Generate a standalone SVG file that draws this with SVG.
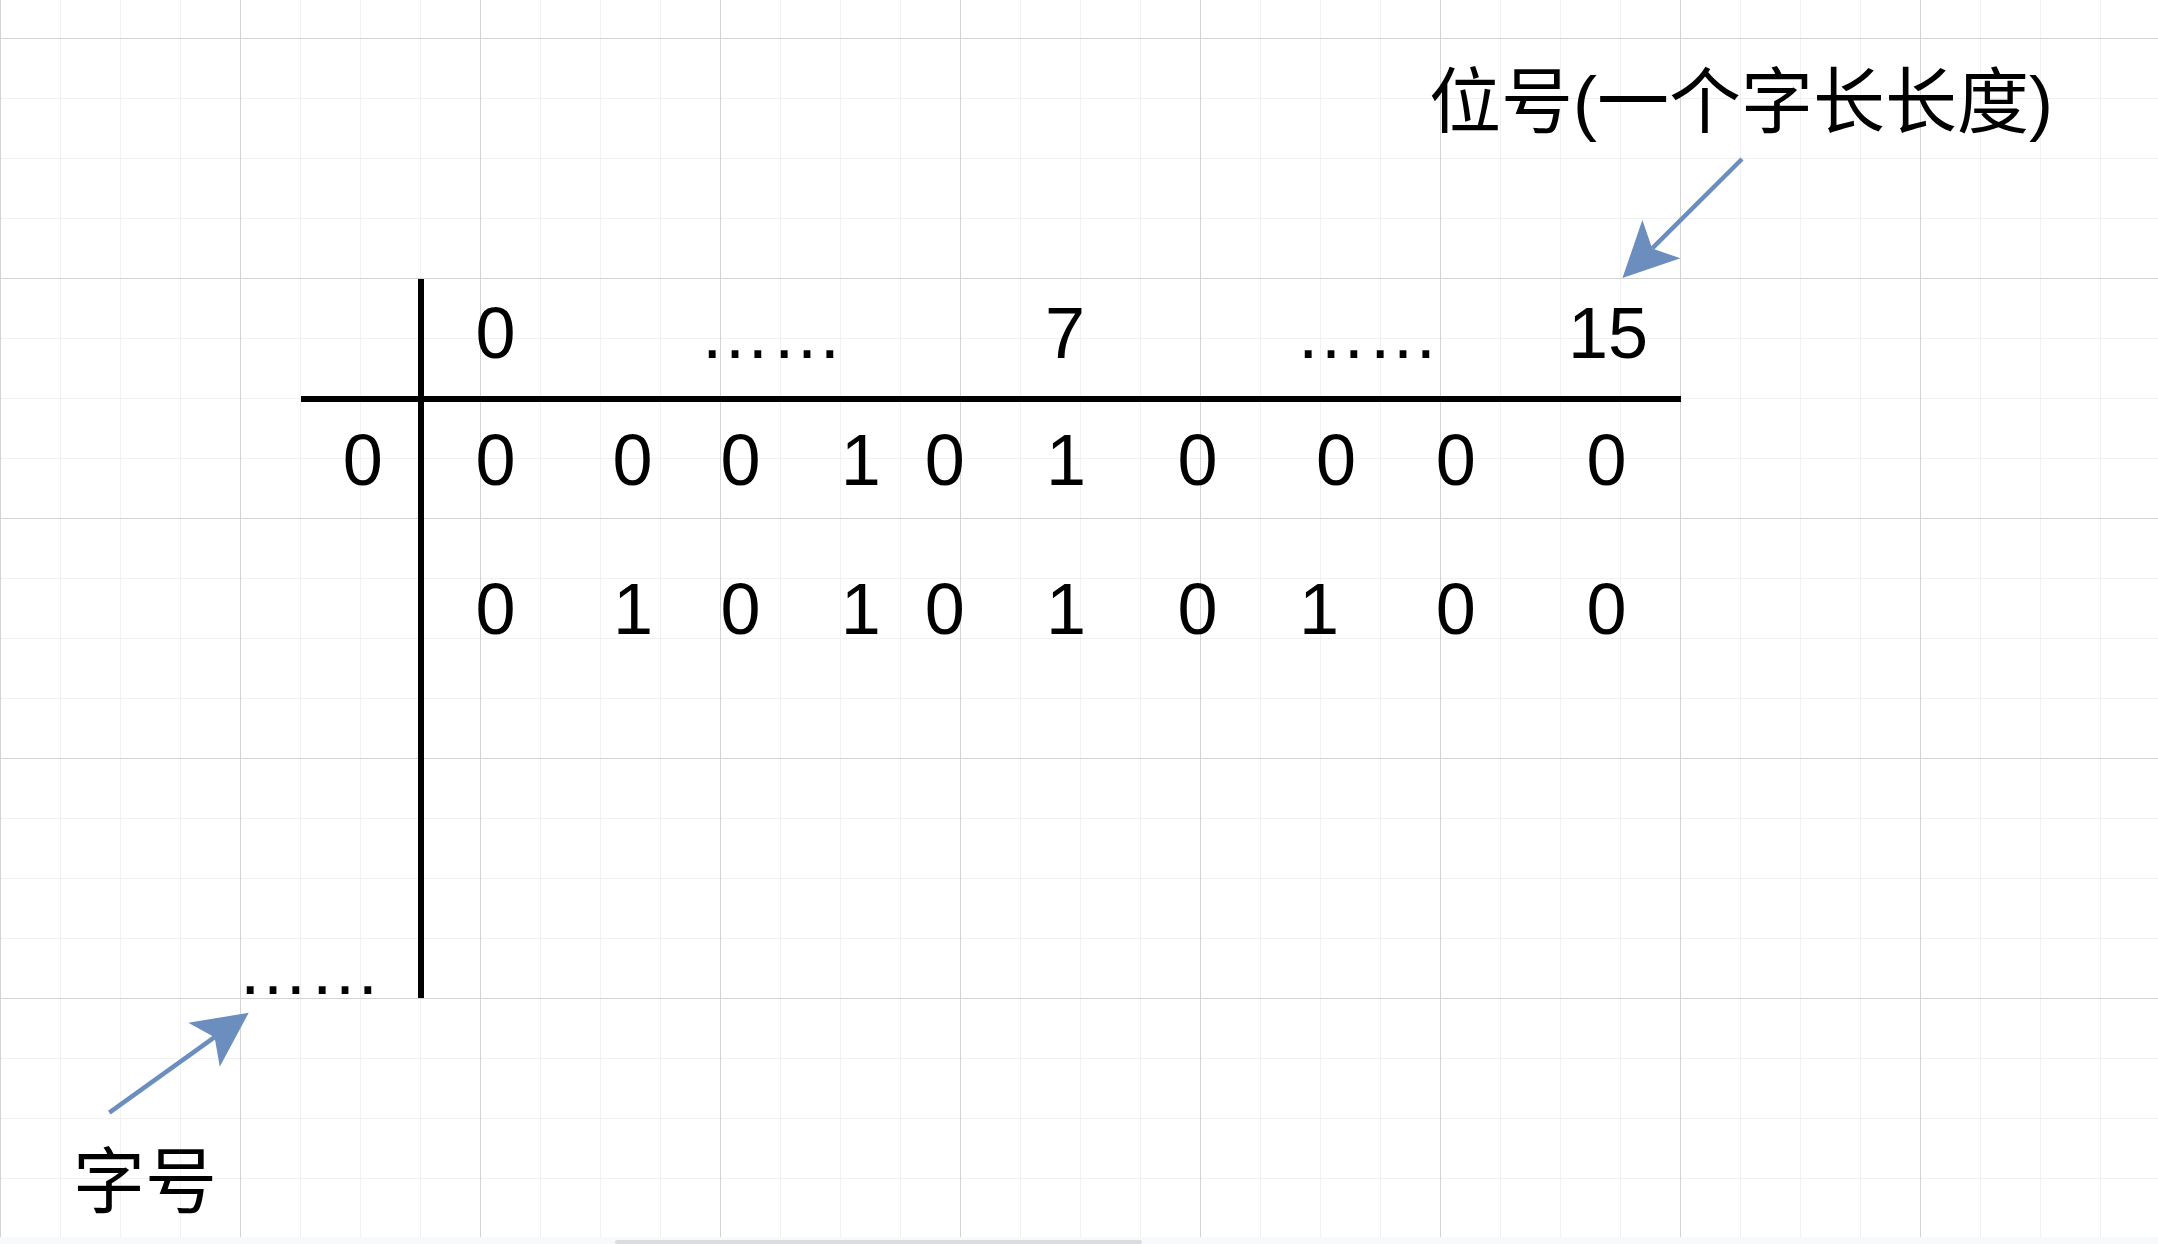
<svg xmlns="http://www.w3.org/2000/svg" width="2158" height="1244" viewBox="0 0 2158 1244">
<style>
.t{font-family:"Liberation Sans","Noto Sans CJK SC",Arial,sans-serif;font-size:72px;fill:#000;}
.m{text-anchor:middle;}
.axis{stroke:#000;stroke-width:6;fill:none;}
.conn{stroke:#6C8EBF;stroke-width:4.5;fill:none;marker-end:url(#ah);}
</style>
<defs>
<pattern id="grid" patternUnits="userSpaceOnUse" x="0" y="38" width="240" height="240">
<path d="M60.5,0V240M120.5,0V240M180.5,0V240M0,60.5H240M0,120.5H240M0,180.5H240" stroke="#f1f1f1" stroke-width="1" fill="none"/>
<path d="M0.5,0V240M0,0.5H240" stroke="#d3d3d3" stroke-width="1" fill="none"/>
</pattern>
<marker id="ah" markerUnits="userSpaceOnUse" markerWidth="60" markerHeight="60" viewBox="-15 -30 60 60" refX="0" refY="0" orient="auto" overflow="visible">
<path d="M42,0L-13,-27L0,0L-13,27Z" fill="#6C8EBF"/>
</marker>
</defs>
<rect x="0" y="0" width="2158" height="1244" fill="#ffffff"/>
<rect x="0" y="0" width="2158" height="1244" fill="url(#grid)"/>
<rect x="0" y="1237" width="2158" height="7" fill="#f8f9fa"/>
<rect x="615" y="1240" width="527" height="4" rx="2" fill="#dadce0"/>

<g id="axes">
<line class="axis" x1="421" y1="279" x2="421" y2="998"/>
<line class="axis" x1="301" y1="399" x2="1681" y2="399"/>
</g>

<g id="header">
<text class="t m" x="495.5" y="358">0</text>
<text class="t m" x="771" y="358">……</text>
<text class="t m" x="1065" y="358">7</text>
<text class="t m" x="1367" y="358">……</text>
<text class="t m" x="1608" y="358">15</text>
</g>

<g id="row-label">
<text class="t m" x="362.7" y="485">0</text>
</g>

<g id="row1">
<text class="t m" x="495.5" y="485">0</text>
<text class="t m" x="632.5" y="485">0</text>
<text class="t m" x="740.6" y="485">0</text>
<text class="t m" x="860.7" y="485">1</text>
<text class="t m" x="944.7" y="485">0</text>
<text class="t m" x="1066" y="485">1</text>
<text class="t m" x="1197.5" y="485">0</text>
<text class="t m" x="1335.9" y="485">0</text>
<text class="t m" x="1455.8" y="485">0</text>
<text class="t m" x="1606.4" y="485">0</text>
</g>

<g id="row2">
<text class="t m" x="495.5" y="634">0</text>
<text class="t m" x="633" y="634">1</text>
<text class="t m" x="740.6" y="634">0</text>
<text class="t m" x="860.7" y="634">1</text>
<text class="t m" x="944.7" y="634">0</text>
<text class="t m" x="1066" y="634">1</text>
<text class="t m" x="1197.5" y="634">0</text>
<text class="t m" x="1319" y="634">1</text>
<text class="t m" x="1455.8" y="634">0</text>
<text class="t m" x="1606.4" y="634">0</text>
</g>

<g id="more-words">
<text class="t m" x="309" y="994">……</text>
</g>

<g id="label-bit">
<text class="t" x="1429" y="127">位号(一个字长长度)</text>
</g>

<g id="label-word">
<text class="t" x="73" y="1207">字号</text>
</g>

<g id="connectors">
<line class="conn" x1="1742" y1="159" x2="1652.2" y2="248.4"/>
<line class="conn" x1="109.3" y1="1112.7" x2="214.6" y2="1037.2"/>
</g>
</svg>
